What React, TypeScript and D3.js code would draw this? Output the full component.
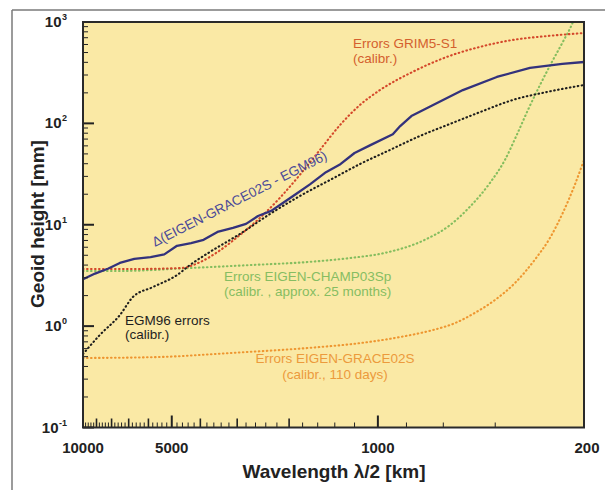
import React from "react";
import * as d3 from "d3";

// ---- data (wavelength λ/2 in km, geoid height in mm) ----
const xLabelTicks = [10000, 5000, 1000, 200];
const yDecades = [-1, 0, 1, 2, 3];

const blueLambda = [10000, 9100, 8200, 7500, 6700, 5900, 5300, 4800, 4300, 3900, 3500, 3100, 2800, 2550, 2300, 2100, 1900, 1700, 1500, 1350, 1200, 1060, 890, 840, 770, 670, 515, 395, 305, 237, 200];
const blueValue = [2.9, 3.3, 3.7, 4.2, 4.6, 4.8, 5.1, 6.2, 6.6, 7.1, 8.5, 9.3, 10.2, 12.2, 13.7, 16.4, 20, 25, 33, 39, 51, 61, 78, 94, 118, 145, 213, 287, 352, 386, 403];

const grimLambda = [10000, 6900, 4650, 4000, 3430, 2940, 2510, 2150, 1840, 1570, 1345, 1150, 984, 764, 584, 451, 349, 267, 200];
const grimValue = [3.66, 3.66, 3.74, 4.29, 5.6, 7.9, 11.7, 18.4, 31, 55, 96, 152, 213, 321, 452, 568, 665, 727, 778];

const champLambda = [10000, 7500, 4370, 2720, 1710, 1240, 940, 693, 570, 488, 417, 371, 338, 310, 282, 257, 236, 218, 207];
const champValue = [3.5, 3.5, 3.74, 4.0, 4.3, 4.7, 5.3, 7.1, 9.9, 15, 25.8, 43.5, 77, 135, 239, 403, 635, 1000, 1500];

const egmLambda = [10000, 8760, 7490, 6770, 5790, 4800, 4340, 3710, 2940, 2320, 1840, 1455, 1150, 911, 721, 570, 451, 349, 267, 200];
const egmValue = [0.53, 0.82, 1.29, 1.94, 2.43, 3.19, 4.0, 5.4, 8.1, 12.8, 19.2, 27.6, 39.7, 54.6, 75, 98.6, 129, 170, 204, 239];

const graceLambda = [10000, 5740, 3130, 1710, 1150, 842, 666, 548, 469, 401, 343, 294, 261, 236, 215, 200];
const graceValue = [0.485, 0.494, 0.544, 0.61, 0.68, 0.78, 0.9, 1.07, 1.35, 1.81, 2.66, 4.5, 7.4, 13.1, 24.7, 43.5];

const FONT = "'Liberation Sans', Arial, Helvetica, sans-serif";

export default function App() {
  const W = 605, H = 490;
  const x0 = 83, x1 = 584, y0 = 22, y1 = 427.5;
  const x = d3.scaleLog().domain([10000, 200]).range([x0, x1]);
  const y = d3.scaleLog().domain([0.1, 1000]).range([y1, y0]);

  const mk = (lam: number[], val: number[], curve: any) =>
    d3.line<number>().x((_, i) => x(lam[i])).y((_, i) => y(val[i])).curve(curve)(lam.map((_, i) => i)) || "";

  const xTicks: { v: number; len: number; w: number }[] = [];
  for (let v = 200; v <= 10000; v += 200) {
    let len = 5, w = 1;
    if (v % 1000 === 0) { len = 9; w = 1.6; }
    if (v === 1000 || v === 5000) { len = 12; w = 2; }
    xTicks.push({ v, len, w });
  }
  const yTicks: { v: number; len: number; w: number }[] = [];
  for (let d = -1; d <= 3; d++) {
    yTicks.push({ v: Math.pow(10, d), len: 11, w: 2 });
    if (d < 3) for (let m = 2; m <= 9; m++) yTicks.push({ v: m * Math.pow(10, d), len: 5, w: 1 });
  }

  const dotted = { fill: "none", strokeWidth: 2.1, strokeDasharray: "0.6 3.4", strokeLinecap: "round" as const };

  return (
    <svg width={W} height={H} style={{ position: "absolute", left: 0, top: 0, background: "#fff" }} fontFamily={FONT}>
      <defs>
        <clipPath id="plot">
          <rect x={x0} y={y0} width={x1 - x0} height={y1 - y0} />
        </clipPath>
      </defs>
      <line x1={12} y1={10} x2={605} y2={10} stroke="#7a7a7a" strokeWidth={1.5} />
      <line x1={12} y1={10} x2={12} y2={490} stroke="#7a7a7a" strokeWidth={1.5} />

      <rect x={x0} y={y0} width={x1 - x0} height={y1 - y0} fill="#fae9a5" />

      <g clipPath="url(#plot)">
        <path d={mk(graceLambda, graceValue, d3.curveMonotoneX)} stroke="#ee9630" {...dotted} />
        <path d={mk(champLambda, champValue, d3.curveMonotoneX)} stroke="#84bd5e" {...dotted} />
        <path d={mk(grimLambda, grimValue, d3.curveMonotoneX)} stroke="#d4472a" {...dotted} />
        <path d={mk(egmLambda, egmValue, d3.curveMonotoneX)} stroke="#1e1e1e" {...dotted} />
        <path d={mk(blueLambda, blueValue, d3.curveLinear)} stroke="#33327c" fill="none" strokeWidth={2.3} strokeLinejoin="round" />
      </g>

      {xTicks.map((t) => (
        <line key={"xt" + t.v} x1={x(t.v)} x2={x(t.v)} y1={y1} y2={y1 - t.len} stroke="#222" strokeWidth={t.w} />
      ))}
      {yTicks.map((t, i) => (
        <line key={"yt" + i} x1={x0} x2={x0 + t.len} y1={y(t.v)} y2={y(t.v)} stroke="#222" strokeWidth={t.w} />
      ))}

      <rect x={x0} y={y0} width={x1 - x0} height={y1 - y0} fill="none" stroke="#2a2a2a" strokeWidth={2} />

      {xLabelTicks.map((v) => (
        <text key={"xl" + v} x={x(v) + (v === 200 ? 3 : 0)} y={453} textAnchor="middle" fontSize={15} fontWeight="bold" fill="#222">
          {v}
        </text>
      ))}
      {yDecades.map((d) => (
        <text key={"yl" + d} x={67} y={y(Math.pow(10, d)) + 5} textAnchor="end" fontSize={15} fontWeight="bold" fill="#222">
          10
          <tspan dx={0.5} dy={-7} fontSize={9}>{d}</tspan>
        </text>
      ))}

      <text x={334} y={478} textAnchor="middle" fontSize={19} fontWeight="bold" fill="#222">
        Wavelength λ/2 [km]
      </text>
      <text transform="translate(44,224) rotate(-90)" textAnchor="middle" fontSize={19} fontWeight="bold" fill="#222">
        Geoid height [mm]
      </text>

      <g fontSize={13.5}>
        <text x={353} y={48} fill="#d4602e">Errors GRIM5-S1</text>
        <text x={353} y={63} fill="#d4602e">(calibr.)</text>
        <text transform="translate(155,247) rotate(-27)" fill="#4b4a98">Δ(EIGEN-GRACE02S - EGM96)</text>
        <text x={224} y={281} fill="#86bd62">Errors EIGEN-CHAMP03Sp</text>
        <text x={224} y={296} fill="#86bd62">(calibr. , approx. 25 months)</text>
        <text x={125} y={325} fill="#1e1e1e">EGM96 errors</text>
        <text x={125} y={339} fill="#1e1e1e">(calibr.)</text>
        <text x={335} y={363} textAnchor="middle" fill="#ec9a3c">Errors EIGEN-GRACE02S</text>
        <text x={335} y={379} textAnchor="middle" fill="#ec9a3c">(calibr., 110 days)</text>
      </g>
    </svg>
  );
}
